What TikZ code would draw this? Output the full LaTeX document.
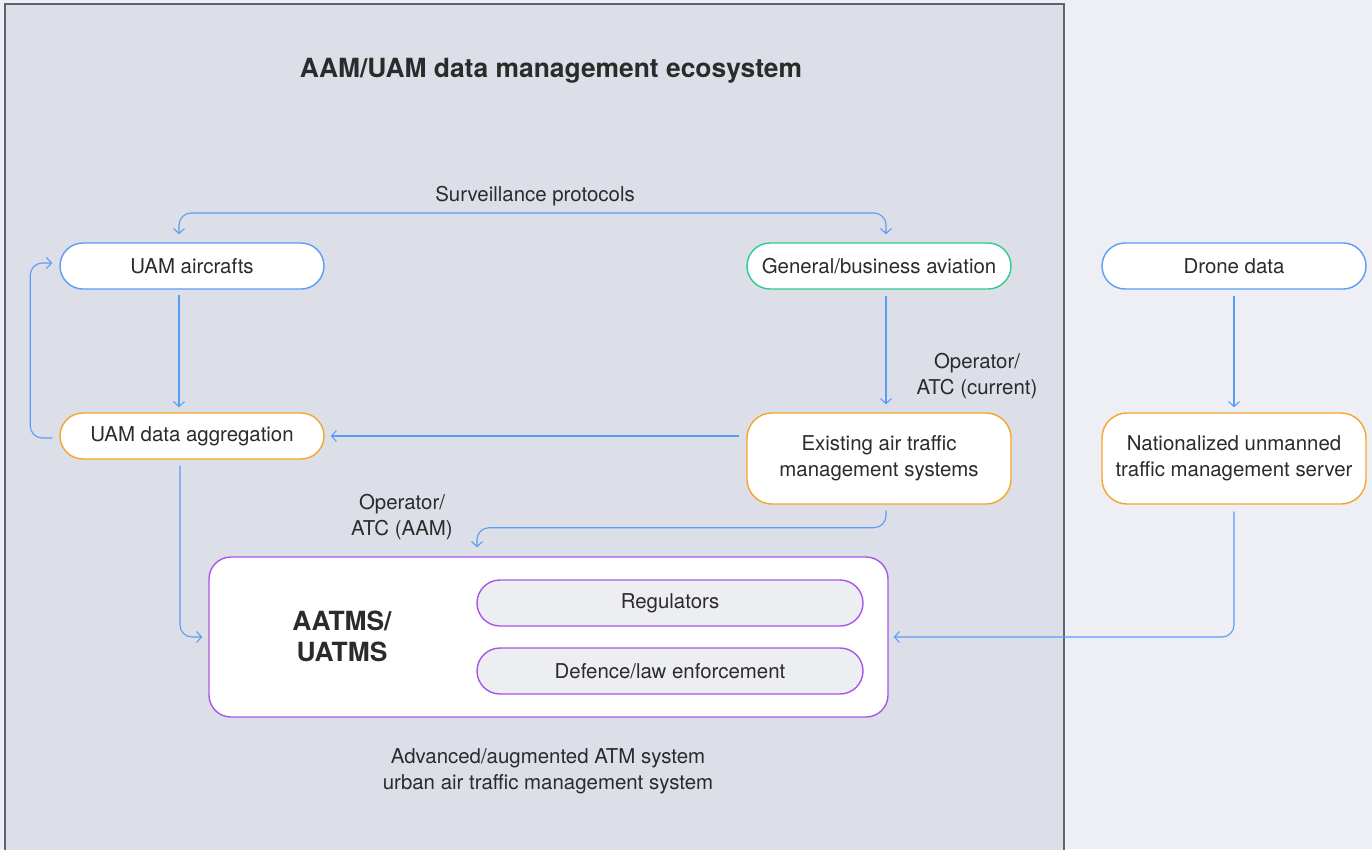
\documentclass[tikz,border=0pt]{standalone}
\usepackage{fontspec}
\setmainfont{TeX Gyre Heros}
\usetikzlibrary{arrows.meta,calc}

\definecolor{pagebg}{HTML}{EEEFF4}
\definecolor{panelbg}{HTML}{DCDFE7}
\definecolor{panelline}{HTML}{5F6370}
\definecolor{txt}{HTML}{2B2B2B}
\definecolor{lineblue}{HTML}{5B9CF6}
\definecolor{edgegreen}{HTML}{2ECC8F}
\definecolor{edgeorange}{HTML}{F5A52A}
\definecolor{edgepurple}{HTML}{A855E8}
\definecolor{innerfill}{HTML}{EDEEF2}

\tikzset{
  body/.style={font=\fontsize{20.5}{26.5}\selectfont, text=txt},
  pill/.style={body, draw=#1, fill=white, line width=1.4bp, rounded corners=23bp,
    minimum width=264bp, minimum height=46bp, inner sep=0pt},
  tallbox/.style={body, draw=#1, fill=white, line width=1.4bp, rounded corners=25bp,
    minimum width=264bp, minimum height=91bp, inner sep=0pt, align=center},
  innerpill/.style={body, draw=edgepurple, fill=innerfill, line width=1.4bp, rounded corners=23bp,
    minimum width=386bp, minimum height=46bp, inner sep=0pt},
  label/.style={body, align=center, inner sep=0pt},
  flow/.style={draw=lineblue, line width=1.1bp, rounded corners=12bp,
    -{Straight Barb[length=5bp,width=11bp]}},
  flowboth/.style={flow, {Straight Barb[length=5bp,width=11bp]}-{Straight Barb[length=5bp,width=11bp]}},
}

\begin{document}
\begin{tikzpicture}[x=1bp,y=-1bp]
  % page and ecosystem panel
  \fill[pagebg] (0,0) rectangle (1372,849);
  \useasboundingbox (0,0) rectangle (1372,849);
  \fill[panelbg] (5,4) rectangle (1064,860);
  \draw[panelline, line width=1.5bp] (5,860) -- (5,4) -- (1064,4) -- (1064,860);

  % title
  \node[font=\bfseries\fontsize{26.5}{30}\selectfont, text=txt] (title) at (551,71) {AAM/UAM data management ecosystem};

  % top row
  \node[pill=lineblue] (uam) at (192,266) {UAM aircrafts};
  \node[pill=edgegreen] (gba) at (879,266) {General/business aviation};
  \node[pill=lineblue] (drone) at (1234,266) {Drone data};

  % middle row
  \node[pill=edgeorange] (agg) at (192,436) {UAM data aggregation};
  \node[tallbox=edgeorange] (ems) at (879,458.5) {Existing air traffic\\management systems};
  \node[tallbox=edgeorange] (nat) at (1234,458.5) {Nationalized unmanned\\traffic management server};

  % AATMS block
  \node[draw=edgepurple, fill=white, line width=1.4bp, rounded corners=22bp,
        minimum width=679bp, minimum height=160bp, inner sep=0pt] (aatms) at (548.5,637) {};
  \node[font=\bfseries\fontsize{26.5}{31}\selectfont, text=txt, align=center] (aatmsname) at (342,636) {AATMS/\\UATMS};
  \node[innerpill] (reg) at (670,603) {Regulators};
  \node[innerpill] (def) at (670,671) {Defence/law enforcement};

  % labels
  \node[label] (survlab) at (535,196) {Surveillance protocols};
  \node[label] (curlab) at (977,376) {Operator/\\ATC (current)};
  \node[label] (aamlab) at (402,517) {Operator/\\ATC (AAM)};
  \node[label] (bottomlab) at (548,771) {Advanced/augmented ATM system\\urban air traffic management system};

  % connectors
  \coordinate (survtop) at (535,213);
  \draw[flowboth] ($(uam.north)+(-13,-8)$) |- (survtop) -| ($(gba.north)+(7,-8)$);
  \draw[flow] ($(uam.south)+(-13,5)$) -- ($(agg.north)+(-13,-5)$);
  \draw[flow] ($(agg.west)+(-7,2)$) -- ++(-22,0) |- ($(uam.west)+(-7,-3)$);
  \draw[flow] ($(gba.south)+(7,6)$) -- ($(ems.north)+(7,-8)$);
  \draw[flow] ($(ems.west)+(-7,-22.5)$) -- ($(agg.east)+(6,0)$);
  \draw[flow] ($(ems.south)+(7,6)$) -- ++(0,17) -| ($(aatms.north)+(-71.5,-9)$);
  \draw[flow] ($(agg.south)+(-12,6)$) |- ($(aatms.west)+(-6,0)$);
  \draw[flow] ($(drone.south)+(0,6)$) -- ($(nat.north)+(0,-5)$);
  \draw[flow] ($(nat.south)+(0,7)$) |- ($(aatms.east)+(5,0)$);
\end{tikzpicture}
\end{document}
